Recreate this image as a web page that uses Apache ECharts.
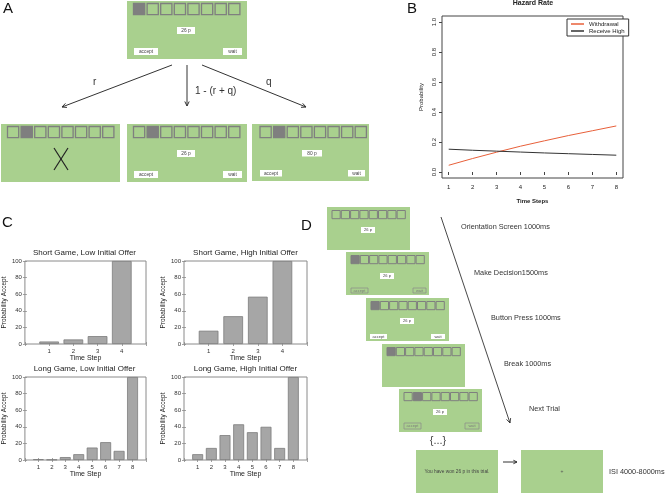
<!DOCTYPE html>
<html><head><meta charset="utf-8">
<script src="https://cdn.jsdelivr.net/npm/echarts@6/dist/echarts.min.js"></script>
<style>html,body{margin:0;padding:0;background:#fff}#c{width:665px;height:495px}</style>
</head><body><div id="c"></div>
<script>
// ---------- DATA ----------
const hazardSteps = [1, 2, 3, 4, 5, 6, 7, 8];
const withdrawal = [0.045, 0.09, 0.132, 0.172, 0.208, 0.243, 0.275, 0.307];
const receiveHigh = [0.152, 0.145, 0.139, 0.133, 0.127, 0.122, 0.117, 0.112];
const hazardYTicks = [0, 0.2, 0.4, 0.6, 0.8, 1.0];
const hazardSeriesNames = ['Withdrawal', 'Receive High'];

const shortSteps = [1, 2, 3, 4];
const longSteps = [1, 2, 3, 4, 5, 6, 7, 8];
const shortLow = [3, 5.5, 9.5, 100];
const shortHigh = [16, 33.5, 57, 100];
const longLow = [1, 0.5, 3.5, 7, 15, 21.5, 11, 100];
const longHigh = [7, 14.5, 30, 43, 33.5, 40, 14.5, 100];
const panelTitles = ['Short Game, Low Initial Offer', 'Short Game, High Initial Offer',
                     'Long Game, Low Initial Offer', 'Long Game, High Initial Offer'];
const acceptTicks = [0, 20, 40, 60, 80, 100];

// ---------- LAYOUT ----------
const FONT = 'Liberation Sans, Arial, sans-serif';
const cPanels = [
  {left: 23, top: 261, steps: shortSteps, values: shortLow},
  {left: 184, top: 261, steps: shortSteps, values: shortHigh},
  {left: 23, top: 377, steps: longSteps, values: longLow},
  {left: 184, top: 377, steps: longSteps, values: longHigh}
];
const cW = 123, cH = 83;

const grids = [], xAxes = [], yAxes = [], series = [], titles = [];

cPanels.forEach((p, i) => {
  const n = p.steps.length;
  grids.push({left: p.left, top: p.top, width: cW, height: cH, show: true,
    borderColor: '#8a8a8a', borderWidth: 1, backgroundColor: '#fff'});
  const gi = grids.length - 1;
  const tickStyle = {color: '#8a8a8a', width: 0.8};
  xAxes.push({gridIndex: gi, type: 'value', min: 0, max: n + 1, interval: 1, position: 'bottom',
    axisLine: {show: false}, axisTick: {show: true, inside: true, length: 2, lineStyle: tickStyle},
    axisLabel: {fontSize: 6, color: '#333', margin: 4, fontFamily: FONT,
      formatter: v => (v >= 1 && v <= n) ? String(v) : ''},
    splitLine: {show: false},
    name: 'Time Step', nameLocation: 'middle', nameGap: 9,
    nameTextStyle: {fontSize: 7, color: '#222', fontFamily: FONT}});
  const xb = xAxes.length - 1;
  xAxes.push({gridIndex: gi, type: 'value', min: 0, max: n + 1, interval: 1, position: 'top',
    axisLine: {show: false}, axisTick: {show: true, inside: true, length: 2, lineStyle: tickStyle},
    axisLabel: {show: false}, splitLine: {show: false}});
  yAxes.push({gridIndex: gi, type: 'value', min: 0, max: 100, interval: 20, position: 'left',
    axisLine: {show: false}, axisTick: {show: true, inside: true, length: 2, lineStyle: tickStyle},
    axisLabel: {fontSize: 6, color: '#333', margin: 3, fontFamily: FONT},
    splitLine: {show: false},
    name: 'Probability Accept', nameLocation: 'middle', nameGap: 13,
    nameTextStyle: {fontSize: 6.5, color: '#222', fontFamily: FONT}});
  const yl = yAxes.length - 1;
  yAxes.push({gridIndex: gi, type: 'value', min: 0, max: 100, interval: 20, position: 'right',
    axisLine: {show: false}, axisTick: {show: true, inside: true, length: 2, lineStyle: tickStyle},
    axisLabel: {show: false}, splitLine: {show: false}});
  series.push({type: 'bar', xAxisIndex: xb, yAxisIndex: yl, silent: true,
    barWidth: 0.8 * cW / (n + 1),
    data: p.steps.map((s, k) => [s, p.values[k]]),
    itemStyle: {color: '#a6a6a6', borderColor: '#7c7c7c', borderWidth: 0.8}});
  titles.push({text: panelTitles[i], left: p.left + cW / 2, top: p.top - 12, textAlign: 'center',
    padding: 0, textStyle: {fontSize: 8, fontWeight: 'normal', color: '#222', fontFamily: FONT}});
});

// Panel B
grids.push({left: 442, top: 16, width: 181, height: 162, show: true, borderColor: '#444', borderWidth: 1, backgroundColor: '#fff'});
const gB = grids.length - 1;
xAxes.push({gridIndex: gB, type: 'value', min: 0.72, max: 8.28,
  axisLine: {show: false},
  axisTick: {show: true, inside: false, length: 3, customValues: hazardSteps, lineStyle: {color: '#444'}},
  axisLabel: {customValues: hazardSteps, fontSize: 6, color: '#222', margin: 6, fontFamily: FONT},
  splitLine: {show: false},
  name: 'Time Steps', nameLocation: 'middle', nameGap: 20,
  nameTextStyle: {fontSize: 6, fontWeight: 'bold', color: '#222', fontFamily: FONT}});
const xB = xAxes.length - 1;
yAxes.push({gridIndex: gB, type: 'value', min: -0.04, max: 1.04,
  axisLine: {show: false},
  axisTick: {show: true, inside: false, length: 3, customValues: hazardYTicks, lineStyle: {color: '#444'}},
  axisLabel: {customValues: hazardYTicks, fontSize: 6, color: '#222', margin: 5, rotate: 90,
    fontFamily: FONT, formatter: v => Number(v).toFixed(1)},
  splitLine: {show: false},
  name: 'Probability', nameLocation: 'middle', nameGap: 18,
  nameTextStyle: {fontSize: 6, color: '#222', fontFamily: FONT}});
const yB = yAxes.length - 1;
series.push({name: hazardSeriesNames[0], type: 'line', xAxisIndex: xB, yAxisIndex: yB, symbol: 'none',
  silent: true, data: hazardSteps.map((s, k) => [s, withdrawal[k]]),
  lineStyle: {color: '#e8603a', width: 1}, itemStyle: {color: '#e8603a'}});
series.push({name: hazardSeriesNames[1], type: 'line', xAxisIndex: xB, yAxisIndex: yB, symbol: 'none',
  silent: true, data: hazardSteps.map((s, k) => [s, receiveHigh[k]]),
  lineStyle: {color: '#333', width: 1}, itemStyle: {color: '#333'}});
titles.push({text: 'Hazard Rate', left: 533, top: 0, textAlign: 'center', padding: 0,
  textStyle: {fontSize: 7, fontWeight: 'bold', color: '#222', fontFamily: FONT}});

// ---------- DIAGRAMS (panels A and D) ----------
const GREEN = '#a9d08e', SQF = '#7f7f7f', SQS = '#7f7f7f';
const G = [];
function R(x, y, w, h, fill, stroke, lw) {
  G.push({type: 'rect', silent: true, shape: {x: x, y: y, width: w, height: h},
    style: {fill: fill, stroke: stroke || 'none', lineWidth: lw || 0}});
}
function T(x, y, t, size, o) {
  o = o || {};
  const al = o.align || 'left';
  G.push({type: 'text', x: x, y: y, silent: true,
    style: {text: t, fontSize: size, fontFamily: o.family || FONT, fontWeight: o.weight || 'normal',
      fill: o.color || '#222', align: al, textAlign: al, verticalAlign: 'middle', textVerticalAlign: 'middle'}});
}
function L(pts, color, lw) {
  G.push({type: 'polyline', silent: true, shape: {points: pts}, style: {stroke: color, lineWidth: lw, fill: 'none'}});
}
function arrow(x1, y1, x2, y2, color, lw, hl) {
  L([[x1, y1], [x2, y2]], color, lw);
  const a = Math.atan2(y2 - y1, x2 - x1), s = 0.45;
  L([[x2 - hl * Math.cos(a - s), y2 - hl * Math.sin(a - s)], [x2, y2],
     [x2 - hl * Math.cos(a + s), y2 - hl * Math.sin(a + s)]], color, lw);
}
function screen(x, y, w, h, cfg) {
  R(x, y, w, h, GREEN);
  if (cfg.squares !== false) {
    for (let k = 0; k < 8; k++) {
      const sx = x + cfg.sqOff + k * cfg.pitch;
      R(sx, y + cfg.sqTop, cfg.sq, cfg.sq, k === cfg.filled ? SQF : GREEN, SQS, cfg.sqLw);
    }
  }
  (cfg.labels || []).forEach(lb => {
    const outlined = !!lb[5];
    R(x + lb[0], y + lb[1], lb[2], lb[3], outlined ? GREEN : '#fff', outlined ? '#8a8a8a' : 'none', outlined ? 0.7 : 0);
    T(x + lb[0] + lb[2] / 2, y + lb[1] + lb[3] / 2, lb[4], cfg.fs, {align: 'center', color: outlined ? '#7a7a7a' : '#444'});
  });
}
const A_CFG = {sqOff: 6.5, pitch: 13.6, sqTop: 2.5, sq: 11.2, sqLw: 1.3, fs: 4.8};
const aLabels = [[50, 26, 18, 7, '26 p'], [7, 47, 24, 7, 'accept'], [96, 47, 19, 7, 'wait']];
screen(127, 1, 120, 58, Object.assign({}, A_CFG, {filled: 0, labels: aLabels}));
screen(1, 124, 119, 58, Object.assign({}, A_CFG, {filled: 1}));
L([[54, 148], [68, 170]], '#222', 1.2); L([[68, 148], [54, 170]], '#222', 1.2);
screen(127, 124, 120, 58, Object.assign({}, A_CFG, {filled: 1, labels: aLabels}));
screen(252, 124, 117, 57, Object.assign({}, A_CFG, {sqOff: 8, filled: 1,
  labels: [[50, 26, 20, 6.5, '80 p'], [8, 46, 22, 6.5, 'accept'], [96, 46, 17, 6.5, 'wait']]}));
arrow(172, 65, 62, 107, '#333', 1, 5);
arrow(187, 65, 187, 106, '#333', 1, 5);
arrow(202, 65, 306, 107, '#333', 1, 5);
T(93, 82, 'r', 10, {color: '#333'});
T(195, 91, '1 - (r + q)', 10, {color: '#333'});
T(266, 82, 'q', 10, {color: '#333'});

const D_CFG = {sqOff: 5, pitch: 9.3, sqTop: 3.5, sq: 8.2, sqLw: 1, fs: 4};
screen(327, 207, 83, 43, Object.assign({}, D_CFG, {filled: -1, labels: [[34, 20, 14, 6, '26 p']]}));
screen(346, 252, 83, 43, Object.assign({}, D_CFG, {filled: 0,
  labels: [[34, 21, 14, 6, '26 p'], [5, 36, 17, 5, 'accept', true], [67, 36, 13, 5, 'wait', true]]}));
screen(366, 298, 83, 43, Object.assign({}, D_CFG, {filled: 0,
  labels: [[34, 20, 14, 6, '26 p'], [4, 36, 17, 5, 'accept'], [65, 36, 14, 5, 'wait']]}));
screen(382, 344, 83, 43, Object.assign({}, D_CFG, {filled: 0}));
screen(399, 389, 83, 43, Object.assign({}, D_CFG, {filled: 1,
  labels: [[34, 20, 14, 6, '26 p'], [5, 34, 17, 6, 'accept', true], [66, 34, 14, 6, 'wait', true]]}));
T(438, 441, '{...}', 11, {align: 'center', color: '#444'});
screen(416, 450, 82, 43, {squares: false});
T(457, 472, 'You have won 26 p in this trial.', 4.8, {align: 'center', color: '#444'});
arrow(503, 462, 517, 462, '#333', 1, 4);
screen(521, 450, 82, 43, {squares: false});
T(562, 472, '+', 5, {align: 'center', color: '#555'});
arrow(441, 217, 510, 423, '#333', 0.9, 5);
const DFS = 7.3;
T(461, 227, 'Orientation Screen 1000ms', DFS, {color: '#333'});
T(474, 273, 'Make Decision1500ms', DFS, {color: '#333'});
T(491, 318, 'Button Press 1000ms', DFS, {color: '#333'});
T(504, 364, 'Break 1000ms', DFS, {color: '#333'});
T(529, 409, 'Next Trial', DFS, {color: '#333'});
T(609, 472, 'ISI 4000-8000ms', DFS, {color: '#333'});

// panel letters
T(3, 9, 'A', 15, {color: '#111'});
T(407, 9, 'B', 15, {color: '#111'});
T(2, 223, 'C', 15, {color: '#111'});
T(301, 226, 'D', 15, {color: '#111'});

const chart = echarts.init(document.getElementById('c'), null, {renderer: 'canvas'});
chart.setOption({
  animation: false,
  backgroundColor: '#fff',
  textStyle: {fontFamily: FONT},
  title: titles,
  legend: {data: hazardSeriesNames, orient: 'vertical', left: 567, top: 19, icon: 'rect',
    itemWidth: 13, itemHeight: 1.5, itemGap: 1, padding: [2, 4, 2, 4],
    borderColor: '#333', borderWidth: 1, backgroundColor: '#fff',
    textStyle: {fontSize: 6, color: '#222', fontFamily: FONT}},
  grid: grids,
  xAxis: xAxes,
  yAxis: yAxes,
  series: series,
  graphic: {elements: G}
});
</script></body></html>
